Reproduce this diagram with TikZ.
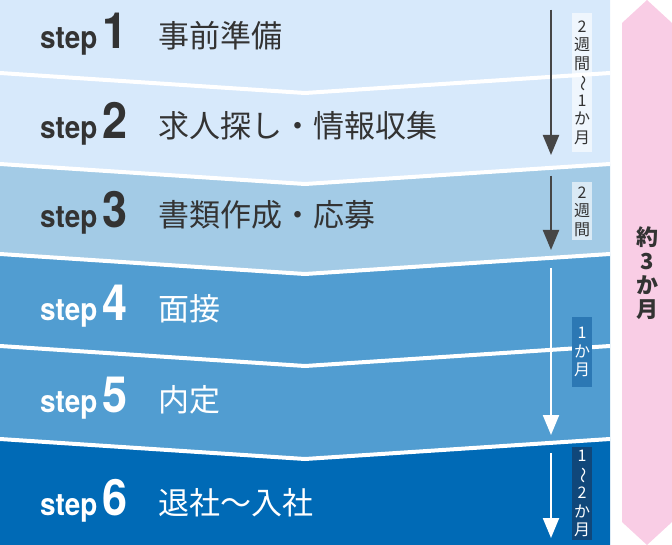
\documentclass[tikz,border=0pt]{standalone}
\usepackage{fontspec}
\setmainfont{TeX Gyre Heros}
\newfontfamily\stepfont{TeX Gyre Heros}[FakeStretch=0.9]
\newfontfamily\jp{Noto Sans CJK JP}
\usetikzlibrary{arrows.meta}
\definecolor{paleblue}{HTML}{D7E9FB}
\definecolor{skyblue}{HTML}{A3CBE6}
\definecolor{midblue}{HTML}{519DD1}
\definecolor{deepblue}{HTML}{006AB6}
\definecolor{bandpink}{HTML}{F9CDE5}
\definecolor{ink}{HTML}{333333}
\definecolor{arrowgray}{HTML}{464646}
\definecolor{tagblue}{HTML}{2C78B4}
\definecolor{tagnavy}{HTML}{10477A}
\tikzset{
  gap/.style={draw=white, line width=4pt},
  steplab/.style={anchor=base west, inner sep=0pt, font=\stepfont\bfseries\fontsize{31}{31}\selectfont},
  stepnum/.style={anchor=base west, inner sep=0pt, font=\stepfont\bfseries\fontsize{50}{50}\selectfont},
  task/.style={anchor=base west, inner sep=0pt, font=\jp\fontsize{31}{31}\selectfont},
  span/.style={line width=2.2pt, -{Triangle[length=20pt,width=16pt]}},
  tag/.style={inner sep=0pt, minimum width=20pt, align=center, text opacity=1,
    font=\jp\fontsize{16}{18.5}\selectfont},
  total/.style={inner sep=0pt, align=center, text=ink,
    font=\jp\bfseries\fontsize{22}{24}\selectfont},
}
\newcommand{\vwave}{\rotatebox[origin=c]{-90}{～}}

\begin{document}
\begin{tikzpicture}[x=1pt,y=-1pt]
  \useasboundingbox (0,0) rectangle (672,545);
  \foreach \i/\tl/\tv/\bl/\bv/\col/\txtcol/\base/\task in {
      1/0/0/73/93/paleblue/ink/49/事前準備,
      2/73/93/164/184/paleblue/ink/139/求人探し・情報収集,
      3/164/184/254/274/skyblue/ink/228/書類作成・応募,
      4/254/274/346/366/midblue/white/321/面接,
      5/346/366/439/459/midblue/white/412/内定,
      6/439/459/545/545/deepblue/white/515/退社～入社} {
    \fill[\col] (0,\tl) -- (305,\tv) -- (610,\tl) -- (610,\bl) -- (305,\bv) -- (0,\bl) -- cycle;
    \node[steplab, text=\txtcol] (s\i) at (40,\base) {step};
    \node[stepnum, text=\txtcol] (n\i) at ([xshift=5pt]s\i.base east) {\i};
    \node[task, text=\txtcol] (t\i) at (158,\base-1) {\task};
  }
  \foreach \y in {73,164,254,346,439}
    \draw[gap] (0,\y) -- (305,\y+20) -- (610,\y);

  \fill[bandpink] (622,23) -- (647,0) -- (672,23) -- (672,522) -- (647,545) -- (622,522) -- cycle;
  \node[total] (all) at (647,273) {約\\3\\か\\月};

  \coordinate (a1s) at (551,10);  \coordinate (a1e) at (551,155);
  \coordinate (a2s) at (551,176); \coordinate (a2e) at (551,250);
  \coordinate (a3s) at (551,268); \coordinate (a3e) at (551,435);
  \coordinate (a4s) at (551,453); \coordinate (a4e) at (551,538);
  \draw[span, draw=arrowgray, fill=arrowgray] (a1s) -- (a1e);
  \draw[span, draw=arrowgray, fill=arrowgray] (a2s) -- (a2e);
  \draw[span, draw=white, fill=white] (a3s) -- (a3e);
  \draw[span, draw=white, fill=white] (a4s) -- (a4e);

  \node[tag, fill=white, fill opacity=0.6, text=ink, minimum height=139pt] (d1) at (582,82.5) {2\\週\\間\\\vwave\\1\\か\\月};
  \node[tag, fill=white, fill opacity=0.6, text=ink, minimum height=58pt] (d2) at (582,211.5) {2\\週\\間};
  \node[tag, fill=tagblue, text=white, minimum height=70pt] (d3) at (582,352) {1\\か\\月};
  \node[tag, fill=tagnavy, text=white, minimum height=93pt] (d4) at (582,493.5) {1\\\vwave\\2\\か\\月};
\end{tikzpicture}
\end{document}
